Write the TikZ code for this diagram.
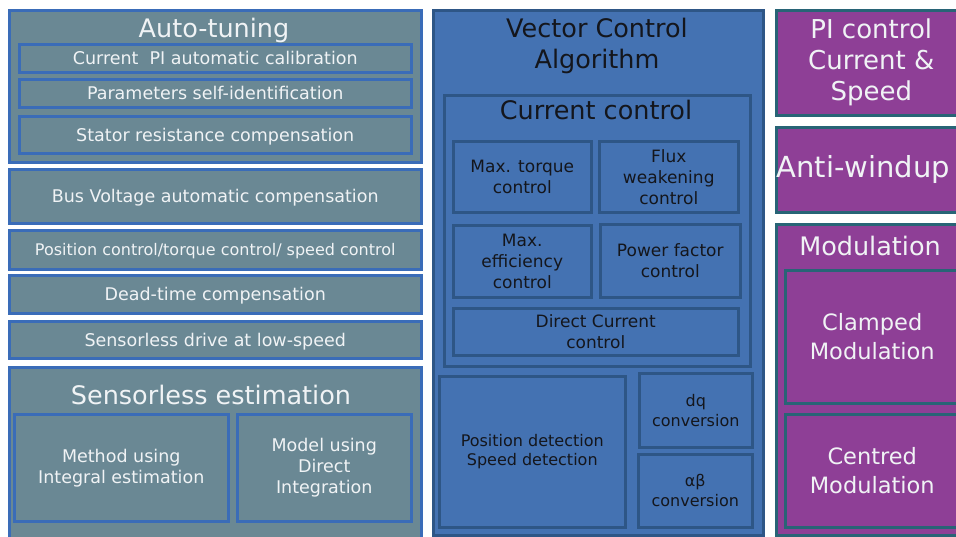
\documentclass[tikz,border=0pt]{standalone}
\usepackage{fontspec}
\setmainfont{DejaVu Sans}
\usetikzlibrary{positioning}
\definecolor{autogrey}{RGB}{106, 136, 148}
\definecolor{autoblue}{RGB}{58, 108, 184}
\definecolor{vecblue}{RGB}{68, 114, 178}
\definecolor{vecedge}{RGB}{46, 86, 134}
\definecolor{modpurple}{RGB}{142, 63, 150}
\definecolor{modedge}{RGB}{40, 100, 118}
\definecolor{lighttext}{RGB}{240, 243, 245}
\definecolor{darktext}{RGB}{20, 22, 28}

\tikzset{
  greybox/.style={draw=autoblue, fill=autogrey, line width=2.5pt, anchor=north west, inner sep=0pt, text=lighttext, align=center},
  vecbox/.style={draw=vecedge, fill=vecblue, line width=2.5pt, anchor=north west, inner sep=0pt, text=darktext, align=center},
  modbox/.style={draw=modedge, fill=modpurple, line width=2.5pt, anchor=north west, inner sep=0pt, text=lighttext, align=center},
  onerow/.style={text height=#1, text depth=0pt},
  onerow/.default=12.8pt,
  titletext/.style={anchor=base, font=\fontsize{25.5}{31}\selectfont}
}

\begin{document}
\begin{tikzpicture}[x=1pt, y=-1pt]
  \fill[white] (0,0) rectangle (956,536);
  \useasboundingbox (0,0) rectangle (956,536);

  % Auto-tuning
  \node[greybox, minimum width=412pt, minimum height=152pt] (autotune) at (8,9) {};
  \node[titletext, text=lighttext] (autotitle) at (214,37) {Auto-tuning};
  \node[greybox, onerow, minimum width=392pt, minimum height=28pt, font=\fontsize{17.5}{21}\selectfont] (calib) at (18,43) {Current~~PI automatic calibration};
  \node[greybox, onerow, minimum width=392pt, minimum height=28pt, font=\fontsize{17.5}{21}\selectfont] (selfid) at (18,78) {Parameters self-identification};
  \node[greybox, onerow, minimum width=392pt, minimum height=37pt, font=\fontsize{17.5}{21}\selectfont] (statres) at (18,115) {Stator resistance compensation};

  % single features
  \node[greybox, onerow, minimum width=412pt, minimum height=54pt, font=\fontsize{17.5}{21}\selectfont] (busvolt) at (8,168) {Bus Voltage automatic compensation};
  \node[greybox, onerow=11.7pt, minimum width=412pt, minimum height=39pt, font=\fontsize{16}{20}\selectfont] (posctrl) at (8,229) {Position control/torque control/ speed control};
  \node[greybox, onerow, minimum width=412pt, minimum height=38pt, font=\fontsize{17.5}{21}\selectfont] (deadtime) at (8,274) {Dead-time compensation};
  \node[greybox, onerow, minimum width=412pt, minimum height=37pt, font=\fontsize{17.5}{21}\selectfont] (lowspeed) at (8,320) {Sensorless drive at low-speed};

  % Sensorless estimation
  \node[greybox, minimum width=412pt, minimum height=179pt] (sensest) at (8,366) {};
  \node[titletext, text=lighttext] (senstitle) at (211,404) {Sensorless estimation};
  \node[greybox, minimum width=214pt, minimum height=107pt, font=\fontsize{17.5}{21}\selectfont] (method) at (13,413) {Method using\\Integral estimation};
  \node[greybox, minimum width=174pt, minimum height=107pt, font=\fontsize{17.5}{21}\selectfont] (model) at (236,413) {Model using\\Direct\\Integration};

  % Vector Control Algorithm
  \node[vecbox, minimum width=330pt, minimum height=525pt] (vector) at (432,9) {};
  \node[titletext, text=darktext] (vectitle) at (597,37) {Vector Control};
  \node[titletext, text=darktext] (vectitle2) at (597,68) {Algorithm};
  \node[vecbox, minimum width=306pt, minimum height=271pt] (curctrl) at (443,94) {};
  \node[titletext, text=darktext] (curtitle) at (596,119) {Current control};
  \node[vecbox, minimum width=138pt, minimum height=71pt, font=\fontsize{17}{21}\selectfont] (maxtorq) at (452,140) {Max. torque\\control};
  \node[vecbox, minimum width=139pt, minimum height=71pt, font=\fontsize{17}{21}\selectfont] (flux) at (598,140) {Flux\\weakening\\control};
  \node[vecbox, minimum width=138pt, minimum height=72pt, font=\fontsize{17}{21}\selectfont] (maxeff) at (452,224) {Max.\\efficiency\\control};
  \node[vecbox, minimum width=140pt, minimum height=73pt, font=\fontsize{17}{21}\selectfont] (pf) at (599,223) {Power factor\\control};
  \node[vecbox, minimum width=285pt, minimum height=47pt, font=\fontsize{17}{21}\selectfont] (dcc) at (452,307) {Direct Current\\control};
  \node[vecbox, minimum width=186pt, minimum height=151pt, font=\fontsize{16}{19}\selectfont] (posdet) at (438,375) {Position detection\\Speed detection};
  \node[vecbox, minimum width=113pt, minimum height=74pt, font=\fontsize{16}{20}\selectfont] (dq) at (638,372) {dq\\conversion};
  \node[vecbox, minimum width=114pt, minimum height=73pt, font=\fontsize{16}{20}\selectfont] (ab) at (637,453) {αβ\\conversion};

  % PI / Anti-windup / Modulation
  \node[modbox, minimum width=190pt, minimum height=105pt, font=\fontsize{26}{31}\selectfont] (pictl) at (775,9) {PI control\\Current \&\\Speed};
  \node[modbox, minimum width=190pt, minimum height=85pt] (antiw) at (775,126) {};
  \node[text=lighttext, font=\fontsize{29}{34}\selectfont, xshift=-8pt] (antitext) at (antiw.center) {Anti-windup};
  \node[modbox, minimum width=190pt, minimum height=311pt] (modul) at (775,223) {};
  \node[titletext, text=lighttext] (modtitle) at (870,255) {Modulation};
  \node[modbox, minimum width=174pt, minimum height=133pt, font=\fontsize{22.5}{29}\selectfont] (clamped) at (784,269) {Clamped\\Modulation};
  \node[modbox, minimum width=174pt, minimum height=113pt, font=\fontsize{22.5}{29}\selectfont] (centred) at (784,413) {Centred\\Modulation};
\end{tikzpicture}
\end{document}
